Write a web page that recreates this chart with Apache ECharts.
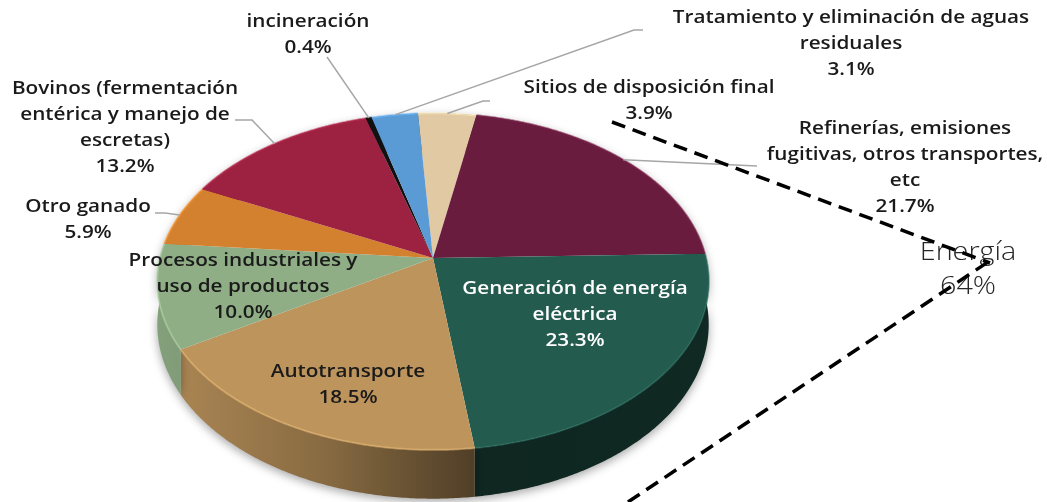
<!DOCTYPE html>
<html>
<head>
<meta charset="utf-8">
<script src="https://cdn.jsdelivr.net/npm/echarts@6/dist/echarts.min.js"></script>
<style>
  html, body { margin: 0; padding: 0; background: #fff; }
  #main { width: 1047px; height: 502px; }
</style>
</head>
<body>
<div id="main"></div>
<script>
// slices, clockwise from the top
var sliceNames = [
  'Sitios de disposición final',
  'Refinerías, emisiones\nfugitivas, otros transportes,\netc',
  'Generación de energía\neléctrica',
  'Autotransporte',
  'Procesos industriales y\nuso de productos',
  'Otro ganado',
  'Bovinos (fermentación\nentérica y manejo de\nescretas)',
  'incineración',
  'Tratamiento y eliminación de aguas\nresiduales'
];
var slicePercents = [3.9, 21.7, 23.3, 18.5, 10.0, 5.9, 13.2, 0.4, 3.1];
var energyLabel = 'Energía';
var energyPercent = 64;

var palette = ['#E0C9A3', '#6A1C3F', '#235B4E', '#BD945C', '#8FAE86',
               '#D4812F', '#9D2242', '#111111', '#5B9BD5'];

// label placement (block centre + leader elbow points)
var labelPos = [
  { x: 649, y: 101, line: [[490, 101], [483, 101]] },
  { x: 905, y: 168, line: [[757, 166]] },
  { x: 575, y: 315, color: '#ffffff' },
  { x: 348, y: 385 },
  { x: 243, y: 287 },
  { x: 88,  y: 220, line: [[155, 213], [165, 213]] },
  { x: 125, y: 128, line: [[235, 120], [252, 120]] },
  { x: 308, y: 35,  line: [[327, 57]] },
  { x: 851, y: 44,  line: [[643, 30], [634, 30]] }
];

// 3d pie geometry
var CX = 433, CY = 258, S = 273, Q = 165, P = 0.14, H = 42;
var START = -3.6;
var FONT = '"Open Sans", "Noto Sans", sans-serif';
var WIDE = 1.15; // stretch to mimic the wide original face

var cum = [];
var acc = 0;
for (var k = 0; k < slicePercents.length; k++) { cum.push(acc); acc += slicePercents[k]; }

function proj(deg, r, dz) {
  var t = deg * Math.PI / 180;
  var u = r * Math.sin(t), v = r * Math.cos(t);
  var w = 1 + P * v;
  return [CX + S * u / w, CY + (-Q * v + H * dz) / w];
}

function shade(hex, f) {
  var n = parseInt(hex.slice(1), 16);
  var r = (n >> 16) & 255, g = (n >> 8) & 255, b = n & 255;
  function c(x) { return Math.max(0, Math.min(255, Math.round(x * f))); }
  return 'rgb(' + c(r) + ',' + c(g) + ',' + c(b) + ')';
}

function arc(a0, a1, dz) {
  var pts = [];
  for (var a = a0; a < a1; a += 0.5) pts.push(proj(a, 1, dz));
  pts.push(proj(a1, 1, dz));
  return pts;
}

function sliceAngles(i, val) {
  var a0 = START + cum[i] * 3.6;
  return [a0, a0 + val * 3.6];
}

function renderSide(params, api) {
  var i = params.dataIndex;
  var an = sliceAngles(i, api.value(0));
  var top = arc(an[0], an[1], 0);
  var bot = arc(an[0], an[1], 1).reverse();
  var base = palette[i];
  return {
    type: 'polygon',
    shape: { points: top.concat(bot) },
    style: {
      fill: {
        type: 'linear', x: CX - S, y: 0, x2: CX + S, y2: 0, global: true,
        colorStops: [
          { offset: 0, color: shade(base, 0.92) },
          { offset: 0.3, color: shade(base, 0.72) },
          { offset: 0.58, color: shade(base, 0.42) },
          { offset: 1, color: shade(base, 0.45) }
        ]
      },
      shadowBlur: 10,
      shadowOffsetY: 3,
      shadowColor: 'rgba(0,0,0,0.35)'
    }
  };
}

function renderTop(params, api) {
  var i = params.dataIndex;
  var val = api.value(0);
  var an = sliceAngles(i, val);
  var rim = arc(an[0], an[1], 0);
  var children = [
    { type: 'polygon', shape: { points: [[CX, CY]].concat(rim) }, style: { fill: palette[i] } },
    { type: 'polyline', shape: { points: rim }, style: { fill: null, stroke: shade(palette[i], 1.2), lineWidth: 2, opacity: 0.6 } }
  ];
  var lp = labelPos[i];
  if (lp.line) {
    var mid = (an[0] + an[1]) / 2;
    children.push({
      type: 'polyline', z2: 20,
      shape: { points: lp.line.concat([proj(mid, 1, 0)]) },
      style: { fill: null, stroke: '#a6a6a6', lineWidth: 1.5 }
    });
  }
  children.push({
    type: 'text', z2: 30, x: lp.x, y: lp.y, scaleX: WIDE,
    style: {
      text: sliceNames[i] + '\n' + val.toFixed(1) + '%',
      fill: lp.color || '#1a1a1a',
      font: '600 18px ' + FONT,
      lineHeight: 26,
      align: 'center',
      verticalAlign: 'middle'
    }
  });
  return { type: 'group', children: children };
}

var chart = echarts.init(document.getElementById('main'));
var seriesData = slicePercents.map(function (v) { return [v]; });

chart.setOption({
  animation: false,
  series: [
    { type: 'custom', coordinateSystem: 'none', z: 1, renderItem: renderSide, data: seriesData, silent: true },
    { type: 'custom', coordinateSystem: 'none', z: 2, renderItem: renderTop, data: seriesData, silent: true }
  ],
  graphic: [
    {
      type: 'text', z: 10, x: 968, y: 270, scaleX: WIDE,
      style: {
        text: energyLabel + '\n' + energyPercent + '%',
        fill: '#262626', font: '300 25px ' + FONT, lineHeight: 34,
        align: 'center', verticalAlign: 'middle'
      }
    },
    {
      type: 'line', z: 11,
      shape: { x1: 612, y1: 122, x2: 990, y2: 263 },
      style: { stroke: '#000', lineWidth: 3.5, lineDash: [14, 8] }
    },
    {
      type: 'line', z: 11,
      shape: { x1: 628, y1: 502, x2: 988, y2: 262 },
      style: { stroke: '#000', lineWidth: 3.5, lineDash: [14, 8] }
    }
  ]
});
</script>
</body>
</html>
